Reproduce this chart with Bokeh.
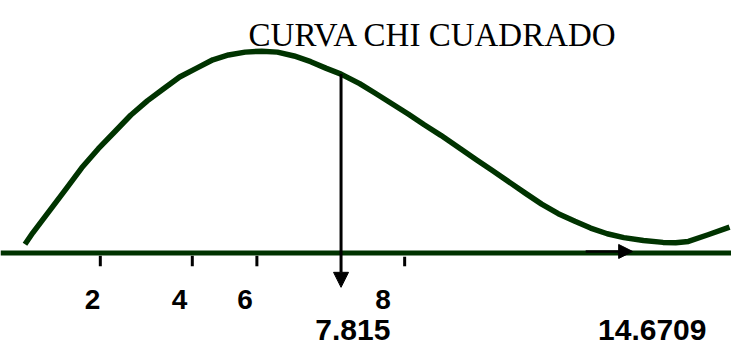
from bokeh.plotting import figure
from bokeh.models import Range1d, Span, Arrow, NormalHead
from bokeh.core.properties import value
from bokeh.embed import file_html
from bokeh.resources import INLINE

# --- data (sketch units: x along the axis, y = height above the baseline) ---
curve_x = [25, 33, 50, 67, 83, 100, 117, 133, 150, 167, 183, 200, 217, 233, 250,
           267, 283, 300, 317, 333, 348, 367, 383, 400, 417, 433, 450, 470, 487,
           503, 520, 537, 553, 570, 587, 603, 620, 637, 657, 677, 690, 703, 723, 745]
curve_y = [9, 21, 44, 67, 89, 109, 127, 144, 159, 172, 184, 193, 202, 207, 210,
           211, 210, 206, 200, 193, 187, 177, 167, 156, 145, 134, 123, 109, 97,
           86, 74, 62, 51, 41, 33, 26, 20, 16, 13, 11, 10.5, 12, 19, 27]

tick_labels = ["2", "4", "6", "8"]
tick_pos = [102, 196, 262, 413]
tick_label_pos = [94, 183, 250, 391]

critical_label = "7.815"
critical_pos = 348
critical_top = 187
stat_label = "14.6709"
stat_label_pos = 666
stat_arrow = [598, 646]
title_text = "CURVA CHI CUADRADO"

GREEN = "#003300"
SANS = value("Liberation Sans")

p = figure(width=731, height=348, output_backend="svg", toolbar_location=None,
           x_range=Range1d(0, 747), y_range=Range1d(-100, 264),
           min_border=0, outline_line_color=None)
p.axis.visible = False
p.grid.visible = False
p.background_fill_color = "white"
p.border_fill_color = "white"

# baseline axis
p.add_layout(Span(location=0, dimension="width", line_color=GREEN, line_width=5))

# chi-square curve
p.line(curve_x, curve_y, line_color=GREEN, line_width=5.5, line_join="round")

# tick marks
tick_top = [-3, -3, -3, -4]
p.segment(x0=tick_pos, x1=tick_pos, y0=tick_top, y1=[-14] * 4,
          line_color="black", line_width=3)

# tick labels
p.text(x=tick_label_pos, y=[-49] * 4, text=tick_labels,
       text_font=SANS, text_font_style="bold", text_font_size="28px",
       text_align="center", text_baseline="alphabetic", text_color="black")

# critical value arrow
p.add_layout(Arrow(x_start=critical_pos, y_start=critical_top, x_end=critical_pos, y_end=-36,
                   line_color="black", line_width=3,
                   end=NormalHead(size=15, fill_color="black", line_color="black", line_width=1)))

# statistic arrow on the axis
p.add_layout(Arrow(x_start=stat_arrow[0], y_start=1.5, x_end=stat_arrow[1], y_end=1.5,
                   line_color="black", line_width=2.5,
                   end=NormalHead(size=14, fill_color="black", line_color="black", line_width=1)))

# bottom labels
p.text(x=[360, stat_label_pos], y=[-81, -81], text=[critical_label, stat_label],
       text_font=SANS, text_font_style="bold", text_font_size="30px",
       text_align="center", text_baseline="alphabetic", text_color="black")

# title
p.text(x=[442], y=[228], text=[title_text],
       text_font=value("Liberation Serif"), text_font_size="33px",
       text_align="center", text_baseline="alphabetic", text_color="black")

open("out.html", "w").write(file_html(p, INLINE))
